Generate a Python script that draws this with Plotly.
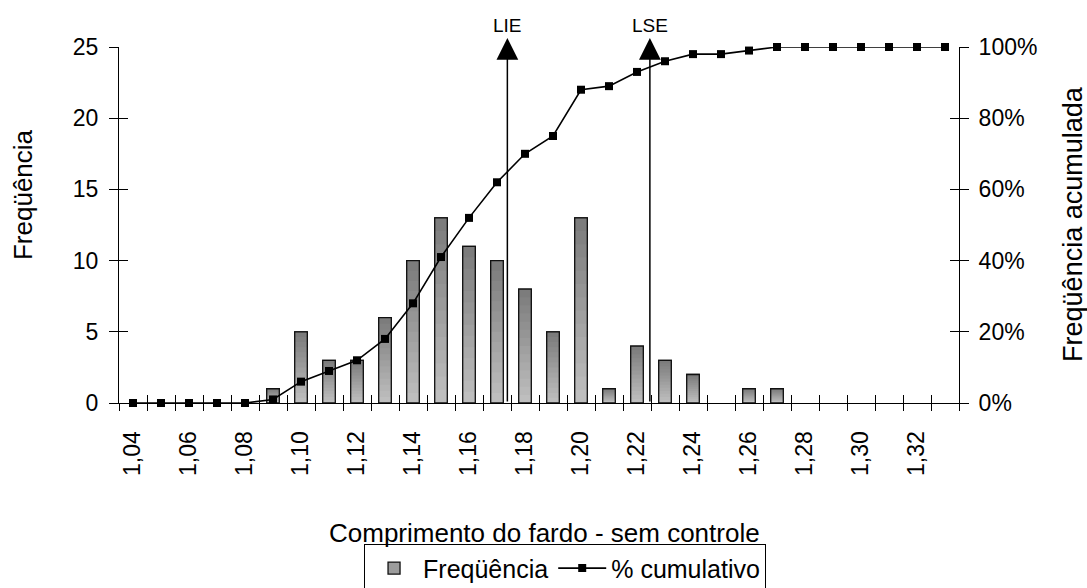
import plotly.graph_objects as go

# ---- data ----
categories = [1.04, 1.05, 1.06, 1.07, 1.08, 1.09, 1.10, 1.11, 1.12, 1.13,
              1.14, 1.15, 1.16, 1.17, 1.18, 1.19, 1.20, 1.21, 1.22, 1.23,
              1.24, 1.25, 1.26, 1.27, 1.28, 1.29, 1.30, 1.31, 1.32, 1.33]
frequencia = [0, 0, 0, 0, 0, 1, 5, 3, 3, 6,
              10, 13, 11, 10, 8, 5, 13, 1, 4, 3,
              2, 0, 1, 1, 0, 0, 0, 0, 0, 0]
cumulativo_pct = [0, 0, 0, 0, 0, 1, 6, 9, 12, 18,
                  28, 41, 52, 62, 70, 75, 88, 89, 93, 96,
                  98, 98, 99, 100, 100, 100, 100, 100, 100, 100]
tick_positions = [1.04, 1.06, 1.08, 1.10, 1.12, 1.14, 1.16, 1.18,
                  1.20, 1.22, 1.24, 1.26, 1.28, 1.30, 1.32]
tick_labels = ["1,04", "1,06", "1,08", "1,10", "1,12", "1,14", "1,16", "1,18",
               "1,20", "1,22", "1,24", "1,26", "1,28", "1,30", "1,32"]
left_ticks = [0, 5, 10, 15, 20, 25]
right_ticks = [0, 0.2, 0.4, 0.6, 0.8, 1.0]
spec_limits = {"LIE": 1.1737, "LSE": 1.2246}

FONT = "Liberation Sans, Arial, sans-serif"
half = 0.005
BAR_W = 0.0045
xr = [categories[0] - half, categories[-1] + half]
boundaries = [c - half for c in categories] + [categories[-1] + half]
cum_frac = [v / 100 for v in cumulativo_pct]
bar_y = [v if v > 0 else None for v in frequencia]  # empty classes draw nothing

fig = go.Figure()
# legend entry / base bar
fig.add_trace(go.Bar(
    x=categories, y=bar_y, width=BAR_W, name="Freqüência",
    marker=dict(color="#9c9c9c", line=dict(color="#111111", width=1.3)),
))
# vertical shading of each bar (dark top -> light bottom), as overlaid bars
N_BANDS = 14
dark, light = 0x7c, 0xbe
for k in range(N_BANDS):
    frac = 1 - k / N_BANDS
    g = round(dark + (light - dark) * k / (N_BANDS - 1))
    fig.add_trace(go.Bar(
        x=categories, y=[v * frac if v else None for v in bar_y], width=BAR_W,
        marker=dict(color=f"rgb({g},{g},{g})", line=dict(width=0)),
        showlegend=False, hoverinfo="skip",
    ))
# outline on top
fig.add_trace(go.Bar(
    x=categories, y=bar_y, width=BAR_W, showlegend=False, hoverinfo="skip",
    marker=dict(color="rgba(0,0,0,0)", line=dict(color="#111111", width=1.3)),
))
fig.add_trace(go.Scatter(
    x=categories, y=cum_frac, yaxis="y2", mode="lines+markers",
    name="% cumulativo", cliponaxis=False,
    line=dict(color="black", width=1.6),
    marker=dict(symbol="square", size=8, color="black"),
))
# helper traces so the overlay axes (crossing tick halves) are rendered
for xa, ya in [("x2", "y"), ("x3", "y"), ("x", "y3"), ("x", "y4")]:
    fig.add_trace(go.Scatter(x=[None], y=[None], xaxis=xa, yaxis=ya,
                             showlegend=False, hoverinfo="skip"))

common = dict(showgrid=False, zeroline=False, automargin=False,
              linecolor="black", tickcolor="black", tickwidth=1)

fig.update_layout(
    width=1087, height=588,
    margin=dict(l=119, r=128, t=47, b=185, autoexpand=False),
    template="none", paper_bgcolor="white", plot_bgcolor="white",
    font=dict(family=FONT, size=23, color="black"),
    barmode="overlay",
    showlegend=True,
    legend=dict(orientation="h", x=0.531, xanchor="center", y=-0.397, yanchor="top",
                bordercolor="black", borderwidth=1, bgcolor="white",
                font=dict(size=25, family=FONT), traceorder="normal",
                itemwidth=48),
    xaxis=dict(range=xr, tickmode="array", tickvals=tick_positions, ticktext=tick_labels,
               ticks="", tickangle=-90, showline=True, linewidth=1,
               ticklabelstandoff=18, **common),
    xaxis2=dict(range=xr, overlaying="x", anchor="y", tickmode="array", tickvals=boundaries,
                ticks="outside", ticklen=7, showticklabels=False, showline=False, **common),
    xaxis3=dict(range=xr, overlaying="x", anchor="y", tickmode="array", tickvals=boundaries,
                ticks="inside", ticklen=8, showticklabels=False, showline=False, **common),
    yaxis=dict(range=[0, 25], tickmode="array", tickvals=left_ticks, ticks="outside",
               ticklen=9, showline=True, linewidth=1, ticklabelstandoff=6, **common),
    yaxis3=dict(range=[0, 25], overlaying="y", anchor="x", side="left", tickmode="array",
                tickvals=left_ticks, ticks="inside", ticklen=9, showticklabels=False,
                showline=False, **common),
    yaxis2=dict(range=[0, 1], overlaying="y", anchor="x", side="right", tickmode="array",
                tickvals=right_ticks, tickformat=".0%", ticks="outside", ticklen=9,
                showline=True, linewidth=1, ticklabelstandoff=5, **common),
    yaxis4=dict(range=[0, 1], overlaying="y", anchor="x", side="right", tickmode="array",
                tickvals=right_ticks, ticks="inside", ticklen=9, showticklabels=False,
                showline=False, **common),
)

annotations = []
for name, xv in spec_limits.items():
    annotations.append(dict(
        x=xv, y=25.63, xref="x", yref="y", ax=xv, ay=0, axref="x", ayref="y",
        text="", showarrow=True, arrowhead=2, arrowsize=2.9, arrowwidth=1.5,
        arrowcolor="black", standoff=0, startstandoff=0,
    ))
    annotations.append(dict(
        x=xv, y=1.06, xref="x", yref="paper", text=name, showarrow=False,
        font=dict(size=19, family=FONT), xanchor="center", yanchor="middle",
    ))
annotations += [
    dict(text="Freqüência", x=-0.1143, y=0.587, xref="paper", yref="paper",
         textangle=-90, showarrow=False, font=dict(size=26, family=FONT),
         xanchor="center", yanchor="middle"),
    dict(text="Freqüência acumulada", x=1.1357, y=0.503, xref="paper", yref="paper",
         textangle=-90, showarrow=False, font=dict(size=27, family=FONT),
         xanchor="center", yanchor="middle"),
    dict(text="Comprimento do fardo - sem controle", x=0.507, y=-0.366,
         xref="paper", yref="paper", showarrow=False, font=dict(size=26, family=FONT),
         xanchor="center", yanchor="middle"),
]
fig.update_layout(annotations=annotations)

fig.write_html("out.html")
